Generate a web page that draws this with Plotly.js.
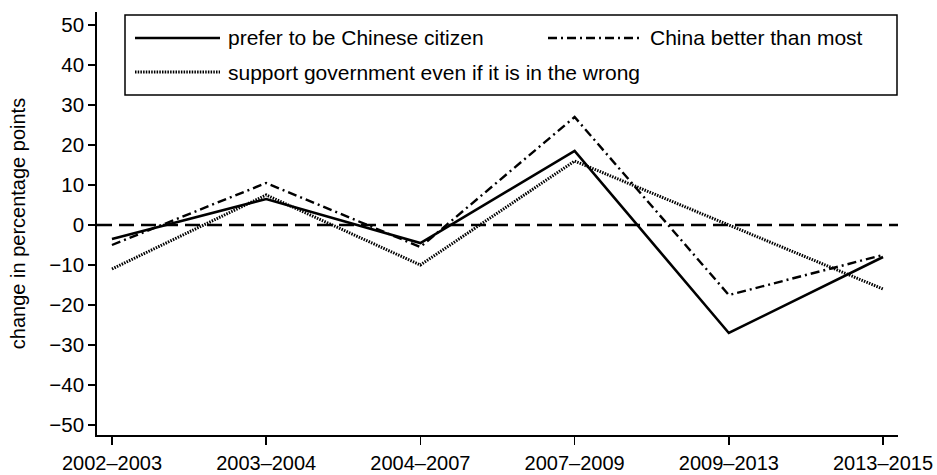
<!DOCTYPE html>
<html>
<head>
<meta charset="utf-8">
<script src="https://cdn.plot.ly/plotly-3.0.1.min.js"></script>
<style>html,body{margin:0;padding:0;background:#fff;}#chart{width:937px;height:475px;}</style>
</head>
<body>
<div id="chart"></div>
<script>
const categories = ['2002–2003', '2003–2004', '2004–2007', '2007–2009', '2009–2013', '2013–2015'];
const preferChinese = [-3.5, 6.5, -4.5, 18.5, -27, -8];
const chinaBetter = [-5, 10.5, -5.5, 27, -17.5, -7.5];
const supportGov = [-11, 7.5, -10, 16, 0, -16];
const seriesNames = ['prefer to be Chinese citizen', 'China better than most', 'support government even if it is in the wrong'];
const yTicks = [-50, -40, -30, -20, -10, 0, 10, 20, 30, 40, 50];

const W = 937, H = 475;
const M = {l: 97, r: 39, t: 12, b: 40};
const PW = W - M.l - M.r, PH = H - M.t - M.b;
const px = x => (x - M.l) / PW;
const py = y => (H - M.b - y) / PH;

const FONT = 'Liberation Sans, Arial, Helvetica, sans-serif';
const dashDot = '9px,4px,2px,4px';
const dotted = '1.5px,1.2px';

const traces = [
  {x: categories, y: preferChinese, name: seriesNames[0], type: 'scatter', mode: 'lines',
   line: {color: '#000', width: 2.6}},
  {x: categories, y: chinaBetter, name: seriesNames[1], type: 'scatter', mode: 'lines',
   line: {color: '#000', width: 2.4, dash: dashDot}},
  {x: categories, y: supportGov, name: seriesNames[2], type: 'scatter', mode: 'lines',
   line: {color: '#000', width: 3, dash: dotted}}
];

const shapes = [
  {type: 'line', xref: 'paper', yref: 'y', x0: 0, x1: 1, y0: 0, y1: 0,
   line: {color: '#000', width: 2.5, dash: '15px,7px'}, layer: 'below'},
  {type: 'rect', xref: 'paper', yref: 'paper', x0: px(125), x1: px(897), y0: py(95), y1: py(15),
   line: {color: '#000', width: 1.5}, fillcolor: '#fff'},
  {type: 'line', xref: 'paper', yref: 'paper', x0: px(135), x1: px(220), y0: py(38), y1: py(38),
   line: {color: '#000', width: 2.6}},
  {type: 'line', xref: 'paper', yref: 'paper', x0: px(548), x1: px(640), y0: py(38), y1: py(38),
   line: {color: '#000', width: 2.4, dash: dashDot}},
  {type: 'line', xref: 'paper', yref: 'paper', x0: px(135), x1: px(220), y0: py(72), y1: py(72),
   line: {color: '#000', width: 3, dash: dotted}}
];

const annotations = [
  {text: seriesNames[0], xref: 'paper', yref: 'paper', x: px(226), y: py(38), xanchor: 'left', yanchor: 'middle', showarrow: false,
   font: {family: FONT, size: 21, color: '#000'}},
  {text: seriesNames[1], xref: 'paper', yref: 'paper', x: px(648), y: py(38), xanchor: 'left', yanchor: 'middle', showarrow: false,
   font: {family: FONT, size: 21, color: '#000'}},
  {text: seriesNames[2], xref: 'paper', yref: 'paper', x: px(226), y: py(72), xanchor: 'left', yanchor: 'middle', showarrow: false,
   font: {family: FONT, size: 21, color: '#000'}}
];

const layout = {
  width: W, height: H,
  margin: M,
  paper_bgcolor: '#fff', plot_bgcolor: '#fff',
  showlegend: false,
  font: {family: FONT, size: 20, color: '#000'},
  xaxis: {
    type: 'category', range: [-0.097, 5.097],
    showgrid: false, zeroline: false,
    showline: true, linecolor: '#000', linewidth: 1.8,
    ticks: 'outside', ticklen: 8, tickwidth: 1.5, tickcolor: '#000',
    ticklabelstandoff: 1,
    tickfont: {family: FONT, size: 20, color: '#000'}
  },
  yaxis: {
    range: [-52.5, 53.25],
    tickvals: yTicks,
    showgrid: false, zeroline: false,
    showline: true, linecolor: '#000', linewidth: 1.8,
    ticks: 'outside', ticklen: 7, tickwidth: 1.5, tickcolor: '#000',
    tickfont: {family: FONT, size: 20.5, color: '#000'},
    title: {text: 'change in percentage points', font: {family: FONT, size: 20, color: '#000'}, standoff: 18}
  },
  shapes: shapes,
  annotations: annotations
};

Plotly.newPlot('chart', traces, layout, {displayModeBar: false, staticPlot: true});
</script>
</body>
</html>
